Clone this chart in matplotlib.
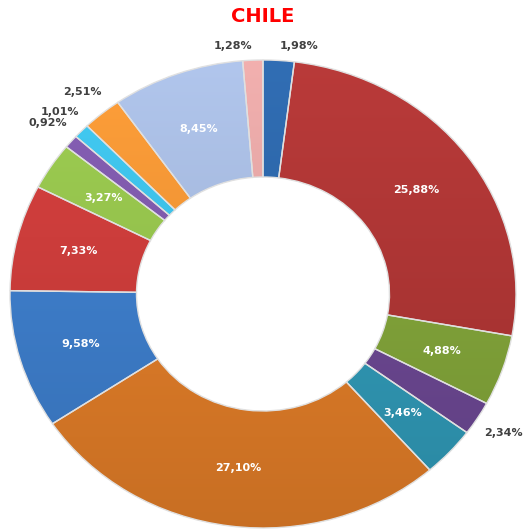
import numpy as np
import matplotlib
matplotlib.use('Agg')
import matplotlib.pyplot as plt
from matplotlib.colors import to_rgb

# valores (%) en sentido horario desde las 12
valores = [1.98, 25.88, 4.88, 2.34, 3.46, 27.10, 9.58, 7.33, 3.27, 0.92, 1.01, 2.51, 8.45, 1.28]
colores = ['#2B65A8', '#AD3433', '#80A238', '#6A4690', '#2F97B4', '#DE7B27', '#3C7CC9',
           '#CB3B39', '#94C24B', '#7D58AA', '#3CBFE6', '#F39433', '#A5B9DE', '#E3A4A3']
titulo = 'CHILE'

fig = plt.figure(figsize=(5.26, 5.29), dpi=100)
ax = fig.add_axes([10 / 526, 1 / 529, 506 / 526, 468 / 529])

wedges, _ = ax.pie(valores, colors=colores, startangle=90, counterclock=False,
                   radius=1, wedgeprops=dict(width=0.5, edgecolor='#E0E0E0', linewidth=1.0))

# degradado vertical suave dentro de cada sector
for w, c in zip(wedges, colores):
    rgb = np.array(to_rgb(c))
    t = np.linspace(0, 1, 256)[:, None]
    top = np.clip(rgb * 1.05 + 0.015, 0, 1)
    bot = rgb * 0.9
    grad = top[None, :] * (1 - t)[:, :, None] + bot[None, :] * t[:, :, None]
    im = ax.imshow(grad, extent=(-1, 1, -1, 1), aspect='auto', zorder=2,
                   interpolation='bilinear')
    im.set_clip_path(w)
    w.set_facecolor('none')
    w.set_zorder(3)

ax.set_aspect('auto')
ax.set_xlim(-1, 1)
ax.set_ylim(-1, 1)
ax.axis('off')

total = sum(valores)
acum = 0
for v in valores:
    mid = (acum + v / 2) / total * 2 * np.pi
    acum += v
    s, c = np.sin(mid), np.cos(mid)
    txt = f'{v:.2f}%'.replace('.', ',')
    if v >= 3:
        ax.text(0.75 * s, 0.75 * c, txt, ha='center', va='center', color='white',
                fontsize=8, fontweight='bold', zorder=5)
    elif abs(s) < 0.3:
        # etiquetas de arriba: a un lado del punto
        ax.text(1.06 * s, 1.06 * c, txt, ha='left' if s > 0 else 'right', va='center',
                color='#404040', fontsize=8, fontweight='bold', zorder=5)
    else:
        ax.text(1.12 * s, 1.12 * c, txt, ha='center', va='center',
                color='#404040', fontsize=8, fontweight='bold', zorder=5)

fig.text(0.5, 1 - 16 / 529, titulo, ha='center', va='center', color='#FF0000',
         fontsize=14, fontweight='bold')

fig.savefig('out.png', dpi=100)
